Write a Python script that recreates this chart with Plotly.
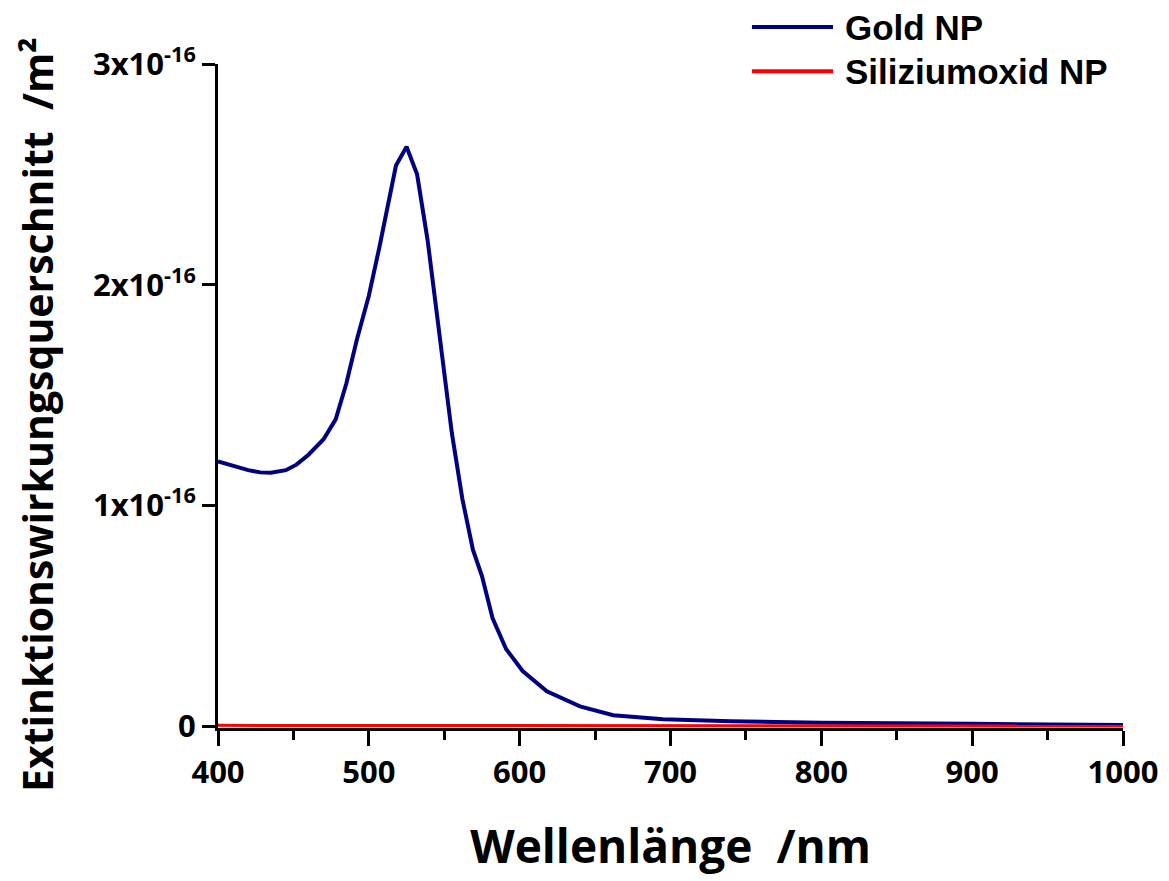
import plotly.graph_objects as go

# ---- data (values in units of 1e-16 m^2) ----
wavelength_nm = [400, 410, 420, 428, 435, 445, 452, 460, 470, 478, 485, 492, 500, 507,
                 518, 525, 532, 539, 545, 550, 555, 562, 569, 575, 582, 591, 602, 618,
                 640, 662, 695, 740, 800, 900, 1000]
gold_np = [1.20, 1.18, 1.16, 1.15, 1.148, 1.16, 1.185, 1.23, 1.30, 1.39, 1.55, 1.75, 1.95, 2.17,
           2.54, 2.625, 2.50, 2.20, 1.88, 1.62, 1.33, 1.03, 0.80, 0.68, 0.49, 0.35, 0.25, 0.158,
           0.09, 0.05, 0.032, 0.023, 0.016, 0.011, 0.006]
si_wavelength_nm = [400, 500, 600, 700, 800, 900, 1000]
siliziumoxid_np = [0.004, 0.003, 0.002, 0.0015, 0.001, 0.001, 0.001]
scale = 1e-16

y_tickvals = [0, 1, 2, 3]
y_ticktext = ["0", "1x10<sup>-16</sup>", "2x10<sup>-16</sup>", "3x10<sup>-16</sup>"]
x_tickvals = [400, 500, 600, 700, 800, 900, 1000]
x_minor_tickvals = [450, 550, 650, 750, 850, 950]

series_names = ["Gold NP", "Siliziumoxid NP"]
series_colors = ["#000080", "#FF0000"]

MAIN = "Open Sans, sans-serif"

fig = go.Figure()
fig.add_trace(go.Scatter(x=wavelength_nm, y=[v * scale for v in gold_np], mode="lines",
                         name=series_names[0], line=dict(color=series_colors[0], width=4),
                         showlegend=False))
fig.add_trace(go.Scatter(x=si_wavelength_nm, y=[v * scale for v in siliziumoxid_np], mode="lines",
                         name=series_names[1], line=dict(color=series_colors[1], width=3),
                         showlegend=False))

# manual legend (long line samples as in the reference)
leg_rows = [1.0557, 0.989]
for name, col, yy in zip(series_names, series_colors, leg_rows):
    fig.add_shape(type="line", xref="paper", yref="paper", x0=0.590, x1=0.6796, y0=yy, y1=yy,
                  line=dict(color=col, width=4))
    fig.add_annotation(xref="paper", yref="paper", x=0.6906, y=yy, xanchor="left", yanchor="middle",
                       text="<b>%s</b>" % name, showarrow=False,
                       font=dict(family="Liberation Sans, Arial, sans-serif", size=35, color="black"))

# y-axis title placed as in the reference
fig.add_annotation(xref="paper", yref="paper", x=-0.2, y=0.4714, xanchor="center", yanchor="middle",
                   text="<b>Extinktionswirkungsquerschnitt  /m²</b>", textangle=-90, showarrow=False,
                   font=dict(family=MAIN, size=41, color="black"))

fig.update_layout(
    width=1169, height=881,
    margin=dict(l=210, r=54, t=56, b=161, autoexpand=False),
    paper_bgcolor="white", plot_bgcolor="white",
    font=dict(family=MAIN, color="black"),
)
fig.update_xaxes(
    range=[400, 1000], tickvals=x_tickvals, ticktext=["<b>%d</b>" % v for v in x_tickvals],
    automargin=False,
    showline=True, linecolor="black", linewidth=3, mirror=False, showgrid=False, zeroline=False,
    ticks="outside", ticklen=15, tickwidth=3, tickcolor="black",
    tickfont=dict(family=MAIN, size=31, color="black"),
    minor=dict(tickvals=x_minor_tickvals, ticks="outside", ticklen=9, tickwidth=3,
               tickcolor="black", showgrid=False),
    title=dict(text="<b>Wellenlänge  /nm</b>", font=dict(family=MAIN, size=46, color="black"),
               standoff=40),
)
fig.update_yaxes(
    range=[-0.008e-16, 3e-16], tickvals=[v * scale for v in y_tickvals],
    ticktext=["<b>%s</b>" % t for t in y_ticktext],
    automargin=False,
    showline=True, linecolor="black", linewidth=3, mirror=False, showgrid=False, zeroline=False,
    ticks="outside", ticklen=13, tickwidth=3, tickcolor="black",
    tickfont=dict(family=MAIN, size=31, color="black"),
)

fig.write_html("out.html")
